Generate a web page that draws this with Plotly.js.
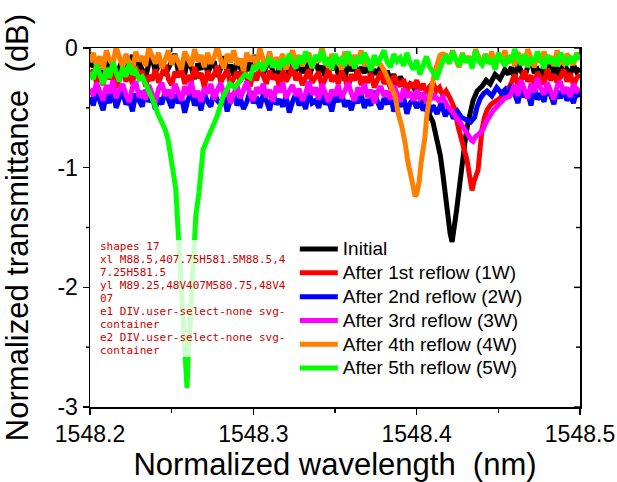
<!DOCTYPE html>
<html>
<head>
<meta charset="utf-8">
<script src="https://cdn.plot.ly/plotly-3.0.1.min.js"></script>
<style>html,body{margin:0;padding:0;background:#fff;}#chart{width:617px;height:482px;}</style>
</head>
<body>
<div id="chart"></div>
<script>
// ---- Data ----
const seriesNames = ["Initial", "After 1st reflow (1W)", "After 2nd reflow (2W)", "After 3rd reflow (3W)", "After 4th reflow (4W)", "After 5th reflow (5W)"];
const seriesColors = ["#000000", "#ff0000", "#0000ff", "#ff00ff", "#ff8000", "#00ff00"];

const wlGrid = [
1548.200,1548.202,1548.204,1548.206,1548.208,1548.210,1548.212,1548.214,1548.216,1548.218,
1548.220,1548.222,1548.224,1548.226,1548.228,1548.230,1548.232,1548.234,1548.236,1548.238,
1548.240,1548.242,1548.244,1548.246,1548.248,1548.250,1548.252,1548.254,1548.256,1548.258,
1548.260,1548.262,1548.264,1548.266,1548.268,1548.270,1548.272,1548.274,1548.276,1548.278,
1548.280,1548.282,1548.284,1548.286,1548.288,1548.290,1548.292,1548.294,1548.296,1548.298,
1548.300,1548.302,1548.304,1548.306,1548.308,1548.310,1548.312,1548.314,1548.316,1548.318,
1548.320,1548.322,1548.324,1548.326,1548.328,1548.330,1548.332,1548.334,1548.336,1548.338,
1548.340,1548.342,1548.344,1548.346,1548.348,1548.350,1548.352,1548.354,1548.356,1548.358,
1548.360,1548.362,1548.364,1548.366,1548.368,1548.370,1548.372,1548.374,1548.376,1548.378,
1548.380,1548.382,1548.384,1548.386,1548.388,1548.390,1548.392,1548.394,1548.396,1548.398,
1548.400,1548.402,1548.404,1548.406,1548.408,1548.410,1548.412,1548.414,1548.416,1548.418,
1548.420,1548.422,1548.424,1548.426,1548.428,1548.430,1548.432,1548.434,1548.436,1548.438,
1548.440,1548.442,1548.444,1548.446,1548.448,1548.450,1548.452,1548.454,1548.456,1548.458,
1548.460,1548.462,1548.464,1548.466,1548.468,1548.470,1548.472,1548.474,1548.476,1548.478,
1548.480,1548.482,1548.484,1548.486,1548.488,1548.490,1548.492,1548.494,1548.496,1548.498,
1548.500];

const tInitialL = [
-0.16,-0.10,-0.20,-0.13,-0.22,-0.08,-0.17,-0.12,-0.24,-0.15,
-0.09,-0.19,-0.14,-0.06,-0.21,-0.11,-0.18,-0.25,-0.13,-0.07,
-0.20,-0.15,-0.10,-0.23,-0.17,-0.12,-0.05,-0.19,-0.14,-0.22,
-0.09,-0.16,-0.26,-0.13,-0.18,-0.08,-0.21,-0.15,-0.11,-0.24,
-0.17,-0.07,-0.20,-0.14,-0.23,-0.10,-0.16,-0.25,-0.12,-0.19,
-0.06,-0.18,-0.13,-0.22,-0.15,-0.09,-0.20,-0.26,-0.14,-0.17,
-0.11,-0.23,-0.08,-0.19,-0.14,-0.21,-0.12,-0.25,-0.16,-0.10,
-0.20,-0.15,-0.24,-0.09,-0.18,-0.13,-0.22,-0.17,-0.27,-0.12,
-0.19,-0.14,-0.23,-0.16,-0.21,-0.11,-0.25,-0.18,-0.22,-0.15,
-0.26,-0.19,-0.28,-0.22,-0.31,-0.24,-0.29,-0.35,-0.30];
const tInitialR = [
-0.22,-0.16,-0.25,-0.13,-0.20,-0.26,-0.15,-0.11,-0.21,-0.18,
-0.24,-0.14,-0.19,-0.09,-0.22,-0.16,-0.25,-0.12,-0.18,-0.23,
-0.14,-0.20,-0.17];
const t1WL = [
-0.25,-0.18,-0.29,-0.22,-0.31,-0.16,-0.26,-0.20,-0.33,-0.24,
-0.17,-0.28,-0.21,-0.30,-0.15,-0.25,-0.19,-0.32,-0.23,-0.27,
-0.18,-0.29,-0.22,-0.14,-0.26,-0.31,-0.20,-0.24,-0.17,-0.30,
-0.23,-0.28,-0.16,-0.25,-0.21,-0.33,-0.19,-0.27,-0.22,-0.15,
-0.29,-0.24,-0.18,-0.31,-0.26,-0.20,-0.28,-0.17,-0.25,-0.32,
-0.21,-0.27,-0.16,-0.24,-0.30,-0.19,-0.26,-0.22,-0.33,-0.18,
-0.28,-0.23,-0.15,-0.27,-0.21,-0.31,-0.25,-0.18,-0.29,-0.24,
-0.20,-0.32,-0.26,-0.17,-0.28,-0.23,-0.30,-0.19,-0.25,-0.34,
-0.22,-0.27,-0.18,-0.31,-0.24,-0.29,-0.21,-0.33,-0.26,-0.20,
-0.30,-0.25,-0.34,-0.23,-0.28,-0.32,-0.26,-0.36,-0.29,-0.33,
-0.27,-0.35,-0.30,-0.38,-0.32,-0.29,-0.36,-0.33,-0.40];
const t1WR = [
-0.29,-0.22,-0.31,-0.25,-0.19,-0.28,-0.23,-0.32,-0.20,-0.26,
-0.30,-0.17,-0.27,-0.22,-0.29,-0.24,-0.18,-0.28,-0.21,-0.31,
-0.25,-0.22];
const t2WL = [
-0.41,-0.48,-0.36,-0.45,-0.52,-0.39,-0.46,-0.34,-0.50,-0.42,
-0.37,-0.47,-0.43,-0.53,-0.38,-0.44,-0.49,-0.35,-0.45,-0.40,
-0.51,-0.42,-0.47,-0.36,-0.44,-0.50,-0.39,-0.46,-0.41,-0.54,
-0.43,-0.37,-0.48,-0.42,-0.52,-0.38,-0.45,-0.49,-0.35,-0.44,
-0.47,-0.40,-0.53,-0.43,-0.38,-0.48,-0.42,-0.51,-0.45,-0.36,
-0.46,-0.41,-0.50,-0.39,-0.44,-0.52,-0.37,-0.47,-0.43,-0.49,
-0.40,-0.54,-0.45,-0.38,-0.48,-0.42,-0.51,-0.36,-0.46,-0.44,
-0.50,-0.39,-0.47,-0.43,-0.53,-0.40,-0.45,-0.37,-0.49,-0.44,
-0.52,-0.41,-0.46,-0.38,-0.50,-0.43,-0.48,-0.36,-0.45,-0.51,
-0.42,-0.47,-0.39,-0.53,-0.44,-0.49,-0.41,-0.55,-0.46,-0.43,
-0.50,-0.45,-0.52,-0.47,-0.54];
const t2WR = [
-0.35,-0.42,-0.31,-0.39,-0.46,-0.34,-0.41,-0.37,-0.48,-0.33,
-0.43,-0.38,-0.45,-0.32,-0.40,-0.47,-0.36,-0.42,-0.34,-0.44,
-0.39,-0.46,-0.35,-0.41];
const t3WL = [
-0.34,-0.40,-0.29,-0.37,-0.44,-0.31,-0.38,-0.27,-0.42,-0.35,
-0.30,-0.39,-0.45,-0.33,-0.28,-0.41,-0.36,-0.43,-0.31,-0.38,
-0.46,-0.34,-0.29,-0.40,-0.35,-0.42,-0.30,-0.37,-0.44,-0.32,
-0.39,-0.28,-0.41,-0.36,-0.45,-0.33,-0.38,-0.30,-0.43,-0.35,
-0.29,-0.40,-0.34,-0.46,-0.37,-0.31,-0.42,-0.36,-0.28,-0.39,
-0.44,-0.33,-0.38,-0.30,-0.41,-0.35,-0.45,-0.32,-0.37,-0.29,
-0.42,-0.36,-0.31,-0.40,-0.34,-0.44,-0.38,-0.28,-0.39,-0.33,
-0.43,-0.30,-0.37,-0.45,-0.35,-0.40,-0.31,-0.42,-0.36,-0.29,
-0.38,-0.44,-0.33,-0.39,-0.30,-0.41,-0.35,-0.46,-0.37,-0.32,
-0.40,-0.36,-0.43,-0.31,-0.38,-0.45,-0.34,-0.41,-0.37,-0.44,
-0.35,-0.42,-0.39,-0.46,-0.38,-0.43];
const t3WR = [
-0.38,-0.31,-0.40,-0.27,-0.35,-0.42,-0.30,-0.37,-0.25,-0.34,
-0.39,-0.29,-0.36,-0.43,-0.32,-0.28,-0.38,-0.33,-0.41,-0.30,
-0.36,-0.34];
const t4WL = [
-0.12,-0.04,-0.15,-0.07,-0.18,-0.02,-0.10,-0.14,0.01,-0.09,
-0.16,-0.05,-0.12,-0.19,-0.03,-0.11,-0.07,-0.15,0.00,-0.08,
-0.13,-0.04,-0.17,-0.10,-0.02,-0.14,-0.06,-0.12,-0.18,-0.03,
-0.09,-0.15,-0.01,-0.11,-0.06,-0.16,-0.04,-0.13,-0.08,0.01,
-0.10,-0.17,-0.05,-0.12,-0.02,-0.14,-0.09,-0.19,-0.04,-0.11,
-0.07,-0.15,0.00,-0.10,-0.13,-0.03,-0.16,-0.08,-0.12,-0.05,
-0.18,-0.09,-0.02,-0.13,-0.06,-0.15,-0.10,-0.04,-0.17,-0.08,
-0.12,0.01,-0.11,-0.16,-0.05,-0.13,-0.08,-0.18,-0.03,-0.10,
-0.14,-0.06,-0.12,-0.02,-0.15,-0.09,-0.17,-0.11,-0.13];
const t4WR = [
-0.06,-0.13,-0.02,-0.10,-0.16,-0.04,-0.11,-0.07,-0.15,-0.01,
-0.09,-0.14,-0.05,-0.12,-0.03,-0.17,-0.08,-0.11,-0.02,-0.13,
-0.06,-0.15,-0.04,-0.10,-0.14,-0.01,-0.09,-0.16,-0.05,-0.12,
-0.03,-0.11,-0.07,-0.15,-0.02,-0.10,-0.13,-0.05,-0.09,-0.14,
-0.04,-0.10];
const t5WL = [
-0.20,-0.26,-0.14,-0.23,-0.30,-0.17,-0.25,-0.12,-0.21,-0.28,
-0.16,-0.24,-0.13,-0.22,-0.19,-0.26,-0.24];
const t5WR = [
-0.17,-0.12,-0.19,-0.14,-0.08,-0.16,-0.11,-0.18,-0.09,-0.14,
-0.05,-0.12,-0.17,-0.07,-0.13,-0.03,-0.10,-0.16,-0.06,-0.11,
-0.02,-0.14,-0.08,-0.18,-0.05,-0.12,-0.09,-0.15,-0.03,-0.11,
-0.17,-0.07,-0.13,-0.04,-0.10,-0.19,-0.06,-0.14,-0.09,-0.02,
-0.12,-0.16,-0.05,-0.11,-0.08,-0.15,-0.04,-0.13,-0.18,-0.10,
-0.22,-0.14,-0.07,-0.16,-0.20,-0.26,-0.18,-0.11,-0.06,-0.13,
-0.03,-0.10,-0.15,-0.05,-0.12,-0.08,-0.17,-0.02,-0.11,-0.14,
-0.06,-0.13,-0.09,-0.18,-0.04,-0.10,-0.15,-0.07,-0.12,-0.01,
-0.09,-0.14,-0.05,-0.16,-0.08,-0.12,-0.03,-0.11,-0.17,-0.06,
-0.13,-0.08,-0.15,-0.04,-0.10,-0.14,-0.07,-0.12,-0.05,-0.09];

const dipWlInitial = [1548.398,1548.401,1548.403,1548.405,1548.4075,1548.410,1548.4125,1548.4145,1548.416,1548.4175,
1548.419,1548.4205,1548.4217,1548.423,1548.4245,1548.426,1548.4275,1548.4285,1548.430,1548.4315,
1548.433,1548.4345,1548.437,1548.440,1548.4425,1548.445,1548.448,1548.451,1548.454];
const dipTInitial = [-0.32,-0.42,-0.38,-0.50,-0.55,-0.62,-0.77,-0.90,-1.05,-1.24,
-1.40,-1.55,-1.62,-1.52,-1.35,-1.18,-1.00,-0.88,-0.74,-0.62,
-0.50,-0.44,-0.36,-0.32,-0.27,-0.30,-0.22,-0.26,-0.18];
const dipWl1W = [1548.418,1548.4205,1548.423,1548.4254,1548.4284,1548.4309,1548.4325,1548.4339,1548.435,1548.4365,
1548.4376,1548.439,1548.440,1548.4415,1548.4431,1548.4455,1548.448,1548.451,1548.454,1548.457];
const dipT1W = [-0.36,-0.42,-0.50,-0.66,-0.83,-0.94,-1.08,-1.19,-1.12,-1.05,
-1.02,-0.82,-0.68,-0.58,-0.52,-0.47,-0.45,-0.42,-0.36,-0.32];
const dipWl2W = [1548.410,1548.4125,1548.415,1548.4175,1548.420,1548.4225,1548.425,1548.4275,1548.4305,1548.433,
1548.4355,1548.437,1548.439,1548.441,1548.443,1548.446,1548.449,1548.452];
const dipT2W = [-0.48,-0.55,-0.46,-0.57,-0.50,-0.59,-0.53,-0.58,-0.60,-0.62,
-0.58,-0.49,-0.42,-0.38,-0.36,-0.40,-0.33,-0.38];
const dipWl3W = [1548.411,1548.4135,1548.416,1548.4185,1548.421,1548.4235,1548.426,1548.4284,1548.431,1548.4335,
1548.4345,1548.436,1548.438,1548.4407,1548.4425,1548.4449,1548.447,1548.4511,1548.454,1548.4572];
const dipT3W = [-0.40,-0.44,-0.41,-0.48,-0.52,-0.56,-0.61,-0.66,-0.72,-0.77,
-0.78,-0.74,-0.72,-0.68,-0.62,-0.57,-0.52,-0.46,-0.42,-0.40];
const dipWl4W = [1548.378,1548.3806,1548.3835,1548.3868,1548.3886,1548.391,1548.393,1548.3947,1548.397,1548.3985,
1548.399,1548.400,1548.4015,1548.4027,1548.405,1548.4064,1548.408,1548.410,1548.412,1548.4143,1548.416];
const dipT4W = [-0.14,-0.20,-0.30,-0.40,-0.54,-0.66,-0.80,-0.96,-1.10,-1.20,
-1.24,-1.22,-1.12,-0.96,-0.75,-0.54,-0.40,-0.27,-0.16,-0.06,-0.05];
const dipWl5W = [1548.234,1548.2367,1548.239,1548.2415,1548.2435,1548.246,1548.2478,1548.249,1548.2505,1548.2525,
1548.2535,1548.2545,1548.2555,1548.2568,1548.2578,1548.2586,1548.2594,1548.260,1548.2606,1548.2615,
1548.2625,1548.2635,1548.2648,1548.2667,1548.2692,1548.2716,1548.2747,1548.2778,1548.2814,1548.2857,
1548.2885,1548.2918,1548.295,1548.298,1548.300];
const dipT5W = [-0.30,-0.38,-0.45,-0.55,-0.60,-0.68,-0.77,-0.85,-1.00,-1.18,
-1.40,-1.77,-2.00,-2.25,-2.42,-2.62,-2.84,-2.62,-2.44,-2.20,
-1.94,-1.65,-1.40,-1.21,-0.85,-0.77,-0.68,-0.57,-0.41,-0.30,
-0.33,-0.27,-0.22,-0.25,-0.16];

const xTickVals = [1548.2, 1548.3, 1548.4, 1548.5];
const xTickText = ["1548.2", "1548.3", "1548.4", "1548.5"];
const xMinorVals = [1548.25, 1548.35, 1548.45];
const yTickVals = [-3, -2, -1, 0];
const yTickText = ["-3", "-2", "-1", "0"];
const yMinorVals = [-2.5, -1.5, -0.5];

function merge(left, right, dipWl, dipT) {
  const pts = [];
  left.forEach((t, i) => pts.push([wlGrid[i], t]));
  const off = wlGrid.length - right.length;
  right.forEach((t, i) => pts.push([wlGrid[off + i], t]));
  dipWl.forEach((w, i) => pts.push([w, dipT[i]]));
  pts.sort((a, b) => a[0] - b[0]);
  return { x: pts.map(p => p[0]), y: pts.map(p => p[1]) };
}
const sets = [
  merge(tInitialL, tInitialR, dipWlInitial, dipTInitial),
  merge(t1WL, t1WR, dipWl1W, dipT1W),
  merge(t2WL, t2WR, dipWl2W, dipT2W),
  merge(t3WL, t3WR, dipWl3W, dipT3W),
  merge(t4WL, t4WR, dipWl4W, dipT4W),
  merge(t5WL, t5WR, dipWl5W, dipT5W)
];
const FONT = "Liberation Sans, Arial, Helvetica, sans-serif";
const traces = sets.map((s, k) => ({
  type: "scatter", mode: "lines",
  name: '<span style="font-size:19px">' + seriesNames[k] + '</span>',
  x: s.x, y: s.y,
  line: { color: seriesColors[k], width: 5 }
}));

const tickLine = { color: "#000", width: 1.5 };
const shapes = [];
xTickVals.concat(xMinorVals).forEach((v, i) => shapes.push({
  type: "line", xref: "x", yref: "paper", x0: v, x1: v, y0: 1, y1: (i < xTickVals.length ? 0.983 : 0.989),
  line: tickLine, layer: "above"
}));
yTickVals.concat(yMinorVals).forEach((v, i) => shapes.push({
  type: "line", xref: "paper", yref: "y", y0: v, y1: v, x0: 1, x1: (i < yTickVals.length ? 0.988 : 0.992),
  line: tickLine, layer: "above"
}));
yMinorVals.forEach(v => shapes.push({
  type: "line", xref: "paper", yref: "y", y0: v, y1: v, x0: 0, x1: -0.0082,
  line: tickLine, layer: "above"
}));

const axisCommon = {
  showline: true, mirror: true, linecolor: "#000", linewidth: 1.5,
  showgrid: false, zeroline: false,
  tickcolor: "#000", tickwidth: 1.5, ticklen: 6,
  tickfont: { family: FONT, size: 23, color: "#000" }
};

const layout = {
  width: 617, height: 482,
  margin: { l: 90, r: 37, t: 48, b: 75, pad: 0 },
  paper_bgcolor: "#fff", plot_bgcolor: "#fff",
  showlegend: true,
  font: { family: FONT, color: "#000" },
  shapes: shapes,
  xaxis: Object.assign({}, axisCommon, {
    range: [1548.2, 1548.5], tickmode: "array", tickvals: xTickVals, ticktext: xTickText,
    ticks: "outside",
    minor: { tickmode: "array", tickvals: xMinorVals, ticks: "outside", ticklen: 4, tickwidth: 1.5, tickcolor: "#000" },
    title: { text: "Normalized wavelength  (nm)", font: { family: FONT, size: 31, color: "#000" } }
  }),
  yaxis: Object.assign({}, axisCommon, {
    range: [-3, 0], tickmode: "array", tickvals: yTickVals, ticktext: yTickText,
    ticks: "outside",
    title: { text: "Normalized transmittance  (dB)", font: { family: FONT, size: 31, color: "#000" } }
  }),
  legend: {
    x: 0.418, y: 0.487, xanchor: "left", yanchor: "top",
    bgcolor: "rgba(0,0,0,0)", borderwidth: 0,
    font: { family: FONT, size: 16, color: "#000" },
    itemwidth: 38,
    tracegroupgap: 0
  }
};

// temporary diagnostics
function dbg(msg) {
  const d = document.createElement("div");
  d.style.cssText = "position:absolute;left:100px;top:240px;font:11px monospace;color:#c00;white-space:pre-wrap;width:190px;word-break:break-all;background:rgba(255,255,255,0.8)";
  d.textContent = msg;
  document.body.appendChild(d);
}
window.onerror = function (m) { dbg("onerror: " + m); };
Plotly.newPlot("chart", traces, layout, { staticPlot: true, displayModeBar: false }).then(() => {
  const gd = document.getElementById("chart");
  const xl = gd.querySelector(".xlines-above");
  const yl = gd.querySelector(".ylines-above");
  const e1 = document.elementFromPoint(580, 250);
  const e2 = document.elementFromPoint(300, 47);
  dbg("shapes " + gd.querySelectorAll(".shapelayer path").length +
      "\nxl " + (xl ? xl.getAttribute("d") : "none") +
      "\nyl " + (yl ? yl.getAttribute("d") : "none") +
      "\ne1 " + (e1 ? e1.tagName + "." + e1.getAttribute("class") : "-") +
      "\ne2 " + (e2 ? e2.tagName + "." + e2.getAttribute("class") : "-"));
}).catch(e => dbg("catch: " + e));
</script>
</body>
</html>
